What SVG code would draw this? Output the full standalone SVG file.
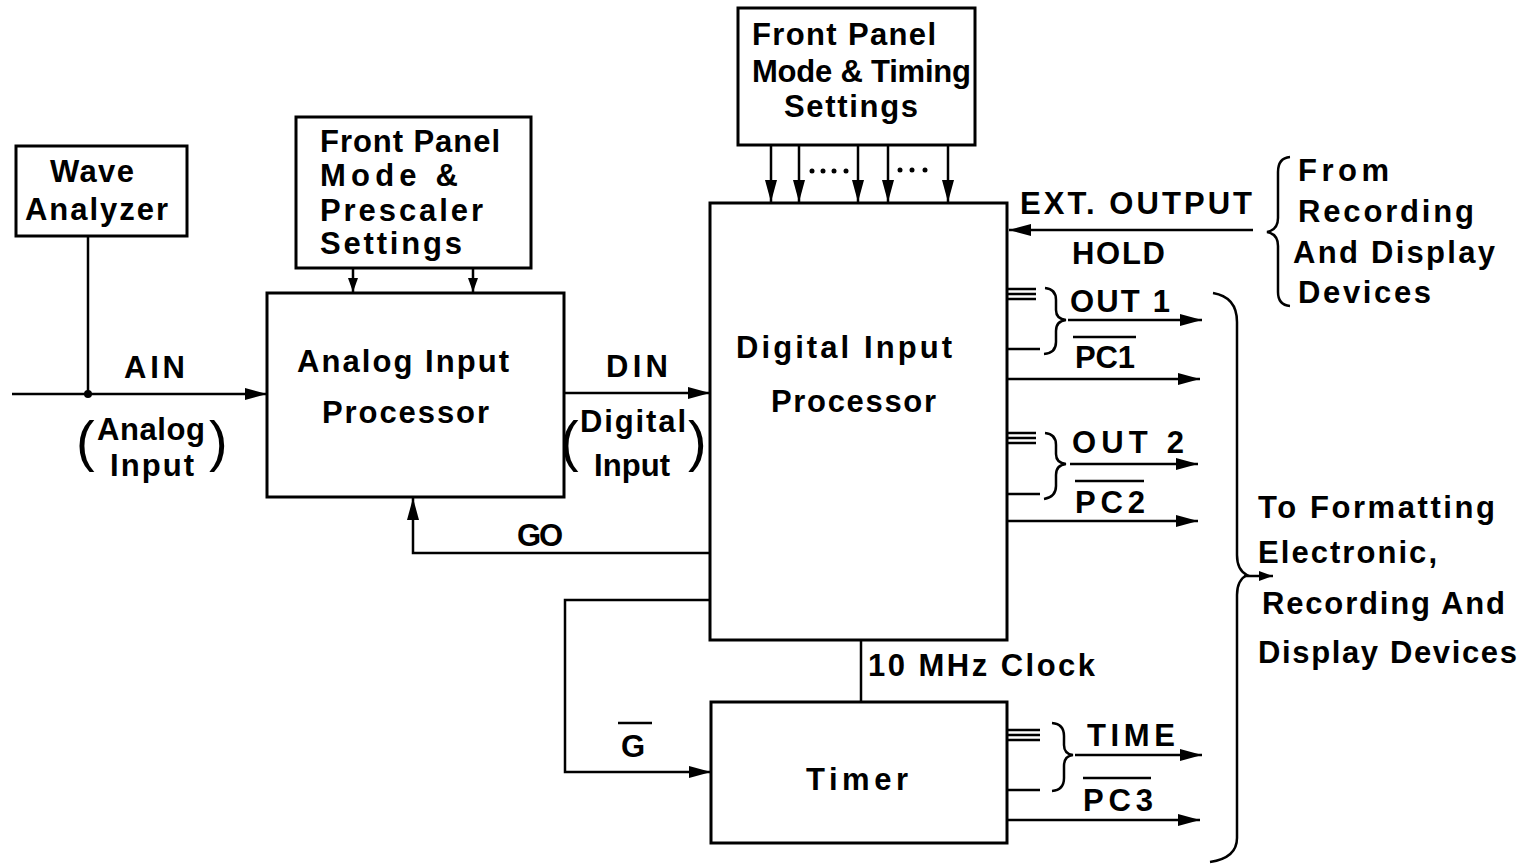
<svg xmlns="http://www.w3.org/2000/svg" width="1526" height="867" viewBox="0 0 1526 867">
<style>
.box{fill:#fff;stroke:#000;stroke-width:3}
.ln{fill:none;stroke:#000;stroke-width:2.5}
.t{font-family:"Liberation Sans",Arial,sans-serif;font-weight:bold;font-size:31px;fill:#000}
.p{font-family:"Liberation Sans",Arial,sans-serif;font-weight:normal;font-size:56px;fill:#000}
</style>
<defs>
<marker id="arr" viewBox="0 0 22 12" refX="22" refY="6" markerWidth="22" markerHeight="12" markerUnits="userSpaceOnUse" orient="auto">
<path d="M0,0 L22,6 L0,12 z" fill="#000"/>
</marker>
<marker id="arrs" viewBox="0 0 14 10" refX="14" refY="5" markerWidth="14" markerHeight="10" markerUnits="userSpaceOnUse" orient="auto">
<path d="M0,0 L14,5 L0,10 z" fill="#000"/>
</marker>
</defs>
<rect width="1526" height="867" fill="#fff"/>

<g id="connectors">
<path class="ln" d="M88,236 V394"/>
<circle cx="88" cy="394" r="4" fill="#000"/>
<path class="ln" d="M12,394 H267" stroke-width="4" marker-end="url(#arr)"/>
<path class="ln" d="M353,268 V292" marker-end="url(#arrs)"/>
<path class="ln" d="M473,268 V292" marker-end="url(#arrs)"/>
<path class="ln" d="M564,393 H710" marker-end="url(#arr)"/>
<path class="ln" d="M771,145 V202" marker-end="url(#arr)"/>
<path class="ln" d="M799,145 V202" marker-end="url(#arr)"/>
<path class="ln" d="M858,145 V202" marker-end="url(#arr)"/>
<path class="ln" d="M888,145 V202" marker-end="url(#arr)"/>
<path class="ln" d="M948,145 V202" marker-end="url(#arr)"/>
<g fill="#000">
<circle cx="812" cy="171" r="2.5"/><circle cx="823" cy="171" r="2.5"/><circle cx="834" cy="171" r="2.5"/><circle cx="846" cy="171" r="2.5"/>
<circle cx="900" cy="170" r="2.5"/><circle cx="912" cy="170" r="2.5"/><circle cx="925" cy="170" r="2.5"/>
</g>
<path class="ln" d="M1253,230 H1009" marker-end="url(#arr)"/>
<path class="ln" d="M1290,157 Q1278,158 1278,172 V218 Q1278,230 1267,232 Q1278,234 1278,246 V292 Q1278,305 1290,306"/>
<path class="ln" d="M710,553 H413 V498" marker-end="url(#arr)"/>
<path class="ln" d="M710,600 H565 V772 H711" marker-end="url(#arr)"/>
<path class="ln" d="M861,640 V702"/>
<path class="ln" d="M1008,289 H1036 M1008,294 H1036 M1008,299 H1036 M1008,349 H1040"/>
<path class="ln" d="M1045,288 Q1056,289 1056,300 V310 Q1056,319 1066,320 Q1056,321 1056,331 V342 Q1056,353 1044,354"/>
<path class="ln" d="M1068,320 H1202" marker-end="url(#arr)"/>
<path class="ln" d="M1008,379 H1200" marker-end="url(#arr)"/>
<path class="ln" d="M1008,433 H1036 M1008,438 H1036 M1008,443 H1036 M1008,494 H1040"/>
<path class="ln" d="M1045,433 Q1056,434 1056,445 V454 Q1056,463 1066,464 Q1056,465 1056,475 V486 Q1056,497 1044,499"/>
<path class="ln" d="M1070,464 H1198" marker-end="url(#arr)"/>
<path class="ln" d="M1008,521 H1198" marker-end="url(#arr)"/>
<path class="ln" d="M1008,730 H1040 M1008,735 H1040 M1008,740 H1040 M1008,790 H1040"/>
<path class="ln" d="M1052,723 Q1064,724 1064,736 V745 Q1064,754 1073,755 Q1064,756 1064,766 V778 Q1064,790 1052,791"/>
<path class="ln" d="M1075,755 H1202" marker-end="url(#arr)"/>
<path class="ln" d="M1008,820 H1200" marker-end="url(#arr)"/>
<path class="ln" d="M1213,293 Q1237,297 1237,322 V555 Q1237,570 1247,575 Q1237,580 1237,595 V838 Q1237,858 1210,862"/>
<path class="ln" d="M1244,576 H1273" marker-end="url(#arrs)"/>
</g>

<g id="wave-analyzer">
<rect class="box" x="16" y="146" width="171" height="90"/>
<text class="t" x="50" y="182" textLength="84">Wave</text>
<text class="t" x="25" y="220" textLength="143">Analyzer</text>
</g>

<g id="front-panel-prescaler">
<rect class="box" x="296" y="117" width="235" height="151"/>
<text class="t" x="320" y="152" textLength="180">Front Panel</text>
<text class="t" x="320" y="186" textLength="138">Mode  &amp;</text>
<text class="t" x="320" y="221" textLength="163">Prescaler</text>
<text class="t" x="320" y="254" textLength="142">Settings</text>
</g>

<g id="analog-input-processor">
<rect class="box" x="267" y="293" width="297" height="204"/>
<text class="t" x="297" y="372" textLength="212">Analog Input</text>
<text class="t" x="322" y="423" textLength="167">Processor</text>
</g>

<g id="front-panel-timing">
<rect class="box" x="738" y="8" width="237" height="137"/>
<text class="t" x="752" y="45" textLength="184">Front Panel</text>
<text class="t" x="752" y="82" textLength="219">Mode &amp; Timing</text>
<text class="t" x="784" y="117" textLength="134">Settings</text>
</g>

<g id="digital-input-processor">
<rect class="box" x="710" y="203" width="297" height="437"/>
<text class="t" x="736" y="358" textLength="216">Digital Input</text>
<text class="t" x="771" y="412" textLength="165">Processor</text>
</g>

<g id="timer">
<rect class="box" x="711" y="702" width="296" height="141"/>
<text class="t" x="806" y="790" textLength="102">Timer</text>
</g>

<g id="labels">
<text class="t" x="124" y="378" textLength="61">AIN</text>
<text class="p" x="76" y="460">(</text>
<text class="t" x="97" y="440" textLength="108">Analog</text>
<text class="p" x="209" y="460">)</text>
<text class="t" x="110" y="476" textLength="84">Input</text>

<text class="t" x="606" y="377" textLength="62">DIN</text>
<text class="p" x="560" y="460">(</text>
<text class="t" x="580" y="432" textLength="106">Digital</text>
<text class="p" x="688" y="460">)</text>
<text class="t" x="594" y="476" textLength="76">Input</text>

<text class="t" x="517" y="546" textLength="46">GO</text>
<text class="t" x="621" y="757" textLength="29">G</text>
<path class="ln" d="M618,723 H652" stroke-width="3"/>

<text class="t" x="868" y="676" textLength="227">10 MHz Clock</text>

<text class="t" x="1020" y="214" textLength="232">EXT. OUTPUT</text>
<text class="t" x="1072" y="264" textLength="93">HOLD</text>
<text class="t" x="1298" y="181" textLength="91">From</text>
<text class="t" x="1298" y="222" textLength="176">Recording</text>
<text class="t" x="1293" y="263" textLength="202">And Display</text>
<text class="t" x="1298" y="303" textLength="133">Devices</text>

<text class="t" x="1070" y="312" textLength="100">OUT 1</text>
<text class="t" x="1075" y="368" textLength="60">PC1</text>
<path class="ln" d="M1073,337 H1136" stroke-width="3"/>
<text class="t" x="1072" y="453" textLength="112">OUT 2</text>
<text class="t" x="1075" y="513" textLength="70">PC2</text>
<path class="ln" d="M1075,481 H1144" stroke-width="3"/>
<text class="t" x="1087" y="746" textLength="88">TIME</text>
<text class="t" x="1083" y="811" textLength="70">PC3</text>
<path class="ln" d="M1083,778 H1151" stroke-width="3"/>

<text class="t" x="1258" y="518" textLength="237">To Formatting</text>
<text class="t" x="1258" y="563" textLength="179">Electronic,</text>
<text class="t" x="1262" y="614" textLength="243">Recording And</text>
<text class="t" x="1258" y="663" textLength="259">Display Devices</text>
</g>
</svg>
